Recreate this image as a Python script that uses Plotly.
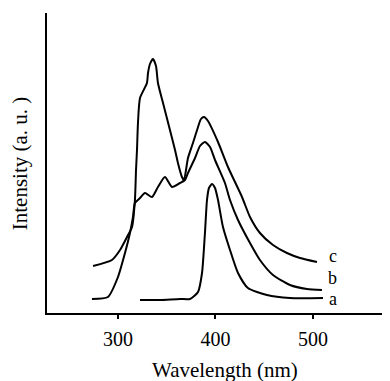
import plotly.graph_objects as go

# Curve a
a_wl = [322.6, 343.1, 363.6, 373.8, 382.1, 386.2, 389.2, 391.3, 393.3, 396.4, 399.5, 402.6, 407.7, 414.9, 423.1, 433.3, 452.8, 476.4, 510.3]
a_int = [13, 13, 14, 14, 21, 40, 80, 113, 125, 129, 125, 113, 86, 63, 40, 25, 18, 15, 15]

# Curve b
b_wl = [273.3, 289.7, 300.0, 307.2, 312.3, 315.4, 317.4, 322.6, 327.7, 334.9, 341.0, 348.2, 355.4, 363.6, 368.7, 371.8, 379.0, 384.1, 389.2, 394.4, 399.5, 409.7, 414.9, 423.1, 435.4, 445.6, 459.0, 476.4, 493.8, 509.2]
b_int = [14, 16, 36, 60, 80, 96, 110, 115, 120, 116, 126, 136, 126, 130, 133, 140, 155, 167, 171, 166, 153, 130, 113, 93, 70, 53, 38, 28, 24, 23]

# Curve c
c_wl = [274.4, 293.8, 302.1, 310.3, 314.4, 317.4, 318.5, 319.5, 320.5, 322.6, 329.7, 330.8, 332.8, 335.9, 339.0, 341.0, 346.2, 353.3, 358.5, 361.5, 365.6, 367.7, 371.8, 376.9, 382.1, 385.1, 388.2, 392.3, 402.6, 412.8, 427.2, 435.4, 445.6, 459.0, 473.3, 486.7, 504.1]
c_int = [47, 53, 63, 78, 86, 113, 143, 163, 190, 215, 230, 240, 249, 254, 247, 230, 210, 183, 163, 150, 136, 133, 155, 170, 186, 194, 196, 192, 171, 146, 116, 96, 80, 68, 60, 55, 51]

x_ticks = [300, 400, 500]
curve_labels = ["a", "b", "c"]
label_int = [14, 35, 57]
label_wl = 520.5

FONT = "Liberation Serif, Times New Roman, serif"

fig = go.Figure()
for wl, inten in [(a_wl, a_int), (b_wl, b_int), (c_wl, c_int)]:
    fig.add_trace(go.Scatter(x=wl, y=inten, mode="lines",
                             line=dict(color="black", width=2, shape="spline", smoothing=0.6),
                             showlegend=False, hoverinfo="skip"))

for lab, yi in zip(curve_labels, label_int):
    fig.add_annotation(x=label_wl, y=yi, text=lab, showarrow=False,
                       font=dict(family=FONT, size=18, color="black"),
                       xanchor="center", yanchor="middle")

fig.add_annotation(x=0.52, y=-0.19, xref="paper", yref="paper",
                   text="Wavelength (nm)", showarrow=False,
                   font=dict(family=FONT, size=21, color="black"),
                   xanchor="center", yanchor="middle")
fig.add_annotation(x=-0.078, y=0.5, xref="paper", yref="paper",
                   text="Intensity (a. u. )", showarrow=False, textangle=-90,
                   font=dict(family=FONT, size=21, color="black"),
                   xanchor="center", yanchor="middle")

fig.update_xaxes(range=[227.2, 579], showline=True, linecolor="black", linewidth=2,
                 ticks="outside", ticklen=4, tickwidth=2, tickcolor="black",
                 tickvals=x_ticks, ticktext=[str(v) for v in x_ticks],
                 tickfont=dict(family=FONT, size=20, color="black"),
                 ticklabelstandoff=3,
                 showgrid=False, zeroline=False)
fig.update_yaxes(range=[0, 300], showline=True, linecolor="black", linewidth=2,
                 ticks="", showticklabels=False, showgrid=False, zeroline=False)

# page body has an 8px margin, so the figure is sized and offset to compensate
fig.update_layout(width=382, height=373, margin=dict(l=39, r=0, t=5, b=68),
                  plot_bgcolor="white", paper_bgcolor="white")

fig.write_html("out.html")
